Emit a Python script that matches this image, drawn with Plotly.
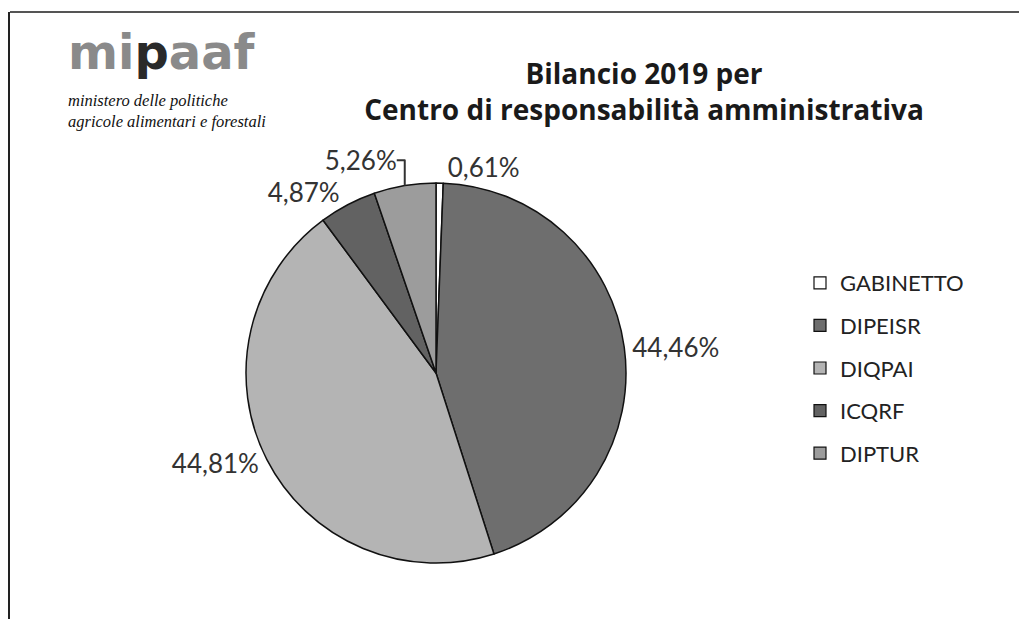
import plotly.graph_objects as go

W, H = 1027, 619

labels = ["GABINETTO", "DIPEISR", "DIQPAI", "ICQRF", "DIPTUR"]
values = [0.61, 44.46, 44.81, 4.87, 5.26]
colors = ["#ffffff", "#6e6e6e", "#b4b4b4", "#626262", "#9c9c9c"]

title_lines = ["Bilancio 2019 per", "Centro di responsabilità amministrativa"]
logo_text = "mipaaf"
ministry_lines = ["ministero delle politiche", "agricole alimentari e forestali"]

FONT = "Lato, Open Sans, sans-serif"

# pie geometry in pixels (center and radius)
cx, cy, r = 428, 365, 190

fig = go.Figure()
fig.add_trace(go.Pie(
    labels=labels,
    values=values,
    sort=False,
    direction="clockwise",
    rotation=0,
    marker=dict(colors=colors, line=dict(color="#111111", width=1.5)),
    textposition="outside",
    texttemplate="%{percent:.2%}",
    textfont=dict(family=FONT, size=26, color="#333333"),
    domain=dict(x=[(cx - r) / W, (cx + r) / W], y=[(H - cy - r) / H, (H - cy + r) / H]),
    hoverinfo="label+percent",
    showlegend=False,
))

# legend entries (one per slice, same labels and colours)
for lab, col in zip(labels, colors):
    fig.add_trace(go.Scatter(
        x=[None], y=[None], mode="markers", name=lab, legendgroup=lab,
        marker=dict(symbol="square", size=12, color=col, line=dict(color="#111111", width=1.2)),
        hoverinfo="skip",
    ))

fig.update_layout(
    width=W, height=H,
    margin=dict(l=0, r=0, t=0, b=0),
    paper_bgcolor="white",
    plot_bgcolor="white",
    separators=",.",
    xaxis=dict(visible=False),
    yaxis=dict(visible=False),
    title=dict(
        text="<b>" + "<br>".join(title_lines) + "</b>",
        x=636 / W, xanchor="center",
        y=1 - 76 / H, yanchor="top",
        font=dict(family="Open Sans, Lato, sans-serif", size=28, color="#1a1a1a"),
    ),
    legend=dict(
        x=792 / W, xanchor="left",
        y=1 - 254 / H, yanchor="top",
        traceorder="grouped",
        tracegroupgap=11,
        font=dict(family=FONT, size=22, color="#222222"),
        itemwidth=30,
    ),
    shapes=[
        dict(type="line", xref="paper", yref="paper", x0=2 / W, x1=1, y0=1 - 4 / H, y1=1 - 4 / H,
             line=dict(color="#555555", width=2)),
        dict(type="line", xref="paper", yref="paper", x0=1 / W, x1=1 / W, y0=0, y1=1 - 4 / H,
             line=dict(color="#222222", width=2)),
    ],
    annotations=[
        dict(text="<b>mi<span style='color:#2a2a2a'>p</span>aaf</b>", x=58 / W, y=1 - 14 / H,
             xref="paper", yref="paper", xanchor="left", yanchor="top", showarrow=False,
             font=dict(family="DejaVu Sans", size=48, color="#8a8a8a")),
        dict(text="<i>" + ministry_lines[0] + "</i>", x=58 / W, y=1 - 93 / H,
             xref="paper", yref="paper", xanchor="left", yanchor="middle", showarrow=False,
             font=dict(family="Liberation Serif", size=16.5, color="#111111")),
        dict(text="<i>" + ministry_lines[1] + "</i>", x=58 / W, y=1 - 114 / H,
             xref="paper", yref="paper", xanchor="left", yanchor="middle", showarrow=False,
             font=dict(family="Liberation Serif", size=16.5, color="#111111")),
    ],
)

fig.write_html("out.html")
